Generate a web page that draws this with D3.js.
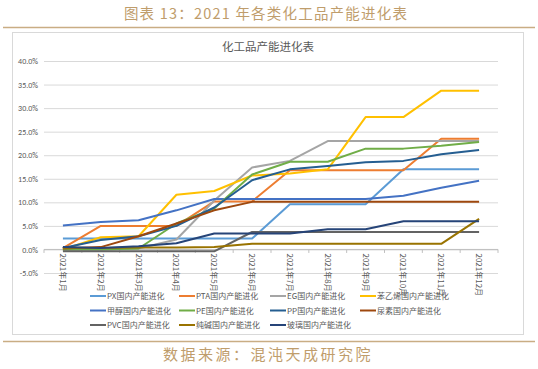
<!DOCTYPE html>
<html>
<head>
<meta charset="utf-8">
<script src="https://cdn.jsdelivr.net/npm/d3@7"></script>
<style>
  body { margin: 0; background: #fff; }
  svg { display: block; font-family: "Noto Sans CJK SC", "Noto Sans", sans-serif; }
</style>
</head>
<body>
<div id="chart"></div>
<script>
const months = ['2021年1月', '2021年2月', '2021年3月', '2021年4月', '2021年5月', '2021年6月',
  '2021年7月', '2021年8月', '2021年9月', '2021年10月', '2021年11月', '2021年12月'];

const seriesNames = ['PX国内产能进化', 'PTA国内产能进化', 'EG国内产能进化', '苯乙烯国内产能进化',
  '甲醇国内产能进化', 'PE国内产能进化', 'PP国内产能进化', '尿素国内产能进化',
  'PVC国内产能进化', '纯碱国内产能进化', '玻璃国内产能进化'];

// values in percent, one per month
const pxValues = [2.3, 2.3, 2.3, 2.3, 2.3, 2.3, 9.6, 9.6, 9.6, 17.0, 17.0, 17.0];
const ptaValues = [0.3, 5.0, 5.0, 5.0, 10.2, 10.2, 16.8, 16.8, 16.8, 16.8, 23.5, 23.5];
const egValues = [0.0, 0.0, 0.2, 2.1, 10.4, 17.4, 18.8, 23.0, 23.0, 23.0, 23.0, 23.0];
const styreneValues = [0.0, 2.6, 2.8, 11.6, 12.4, 15.7, 16.1, 17.0, 28.1, 28.1, 33.7, 33.7];
const methanolValues = [5.1, 5.8, 6.2, 8.3, 10.7, 10.7, 10.7, 10.7, 10.7, 11.4, 13.1, 14.6];
const peValues = [0.0, 0.0, 0.2, 5.5, 8.7, 15.9, 18.6, 18.6, 21.4, 21.4, 22.0, 22.8];
const ppValues = [0.3, 2.0, 2.8, 5.0, 8.9, 14.7, 17.0, 17.7, 18.5, 18.8, 20.2, 21.1];
const ureaValues = [0.2, 0.5, 2.8, 5.5, 8.3, 10.1, 10.1, 10.1, 10.1, 10.1, 10.1, 10.1];
const pvcValues = [-0.4, -0.4, -0.4, -0.4, -0.4, 3.7, 3.7, 3.7, 3.7, 3.7, 3.7, 3.7];
const sodaAshValues = [0.3, 0.3, 0.4, 0.4, 0.5, 1.2, 1.2, 1.2, 1.2, 1.2, 1.2, 6.5];
const glassValues = [0.5, 0.3, 0.7, 1.3, 3.4, 3.4, 3.4, 4.3, 4.3, 6.0, 6.0, 6.0];

const yTicks = [-5, 0, 5, 10, 15, 20, 25, 30, 35, 40];

const seriesValues = [pxValues, ptaValues, egValues, styreneValues, methanolValues, peValues,
  ppValues, ureaValues, pvcValues, sodaAshValues, glassValues];

const colors = ['#5B9BD5', '#ED7D31', '#A5A5A5', '#FFC000', '#4472C4', '#70AD47',
  '#255E91', '#9E480E', '#636363', '#997300', '#264478'];

const width = 538, height = 369;
const gold = '#bf9d6c';

const svg = d3.select('#chart').append('svg')
  .attr('width', width)
  .attr('height', height);

// Page header and footer
svg.append('text')
  .attr('x', 266).attr('y', 19)
  .attr('text-anchor', 'middle')
  .attr('font-size', 14.5)
  .attr('letter-spacing', 1.2)
  .attr('fill', gold)
  .text('图表 13：2021 年各类化工品产能进化表');

svg.append('line')
  .attr('x1', 3).attr('x2', 535).attr('y1', 27.5).attr('y2', 27.5)
  .attr('stroke', '#c9ad84').attr('stroke-width', 1.5);

svg.append('line')
  .attr('x1', 3).attr('x2', 535).attr('y1', 341.5).attr('y2', 341.5)
  .attr('stroke', '#c9ad84').attr('stroke-width', 1.5);

svg.append('text')
  .attr('x', 268).attr('y', 360)
  .attr('text-anchor', 'middle')
  .attr('font-size', 15)
  .attr('letter-spacing', 2.5)
  .attr('fill', gold)
  .text('数据来源：混沌天成研究院');

// Chart frame
svg.append('rect')
  .attr('x', 12.5).attr('y', 32.5).attr('width', 511).attr('height', 302)
  .attr('fill', '#fff').attr('stroke', '#d9d9d9');

svg.append('text')
  .attr('x', 268).attr('y', 51)
  .attr('text-anchor', 'middle')
  .attr('font-size', 11.5)
  .attr('fill', '#595959')
  .text('化工品产能进化表');

// Scales
const x = d3.scalePoint().domain(months).range([44, 498]).padding(0.5);
const y = d3.scaleLinear().domain([-5, 40]).range([273, 61]);

// Gridlines + y labels
const yAxis = d3.axisLeft(y)
  .tickValues(yTicks)
  .tickSize(-(498 - 44))
  .tickPadding(6)
  .tickFormat(d => d.toFixed(1) + '%');

const gy = svg.append('g')
  .attr('transform', 'translate(44,0)')
  .call(yAxis);
gy.select('.domain').remove();
gy.selectAll('.tick line').attr('stroke', '#d9d9d9');
gy.selectAll('.tick text')
  .attr('fill', '#595959')
  .attr('font-size', 8)
  .attr('font-family', 'Calibri, "Liberation Sans", "Noto Sans", sans-serif');

// Category axis at zero
const bandStep = x.step();
const gx = svg.append('g').attr('transform', `translate(0,${y(0)})`);
gx.append('line')
  .attr('x1', 44).attr('x2', 498)
  .attr('stroke', '#bfbfbf');
gx.selectAll('.cat-tick')
  .data(d3.range(months.length + 1))
  .join('line')
  .attr('class', 'cat-tick')
  .attr('x1', i => 44 + i * bandStep).attr('x2', i => 44 + i * bandStep)
  .attr('y1', 0).attr('y2', 3.5)
  .attr('stroke', '#bfbfbf');
gx.selectAll('.cat-label')
  .data(months)
  .join('text')
  .attr('class', 'cat-label')
  .attr('transform', d => `translate(${x(d) - 3},4) rotate(90)`)
  .attr('text-anchor', 'start')
  .attr('font-size', 8)
  .attr('fill', '#595959')
  .text(d => d);

// Lines
const line = d3.line()
  .x((d, i) => x(months[i]))
  .y(d => y(d));

svg.append('g')
  .selectAll('path')
  .data(seriesValues)
  .join('path')
  .attr('d', d => line(d))
  .attr('fill', 'none')
  .attr('stroke', (d, i) => colors[i])
  .attr('stroke-width', 2)
  .attr('stroke-linejoin', 'round');

// Legend
const legendCols = [90, 179, 270, 360];
const legendRows = [296, 310.5, 325];
const legend = svg.append('g')
  .selectAll('g')
  .data(seriesNames)
  .join('g')
  .attr('transform', (d, i) => `translate(${legendCols[i % 4]},${legendRows[Math.floor(i / 4)]})`);
legend.append('line')
  .attr('x1', 0).attr('x2', 16)
  .attr('stroke', (d, i) => colors[i])
  .attr('stroke-width', 2);
legend.append('text')
  .attr('x', 17).attr('y', 3)
  .attr('font-size', 8)
  .attr('fill', '#595959')
  .text(d => d);
</script>
</body>
</html>
